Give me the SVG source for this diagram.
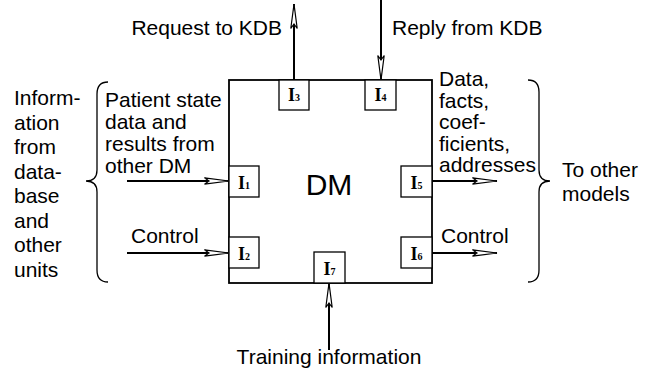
<svg xmlns="http://www.w3.org/2000/svg" width="645" height="376" viewBox="0 0 645 376">
  <style>
    .lbl { font-family: "Liberation Sans", Arial, sans-serif; font-size: 21px; fill: #000; }
    .big { font-family: "Liberation Sans", Arial, sans-serif; font-size: 30px; fill: #000; }
    .port { font-family: "Liberation Serif", "Times New Roman", serif; font-size: 18px; font-weight: bold; fill: #000; }
    .sub { font-size: 10px; }
    .frame { fill: #fff; stroke: #000; stroke-width: 1.8; }
    .pbox { fill: #fff; stroke: #000; stroke-width: 1.3; }
    .flow { fill: none; stroke: #000; stroke-width: 2; marker-end: url(#head); }
    .brace { fill: none; stroke: #000; stroke-width: 1.3; }
  </style>
  <defs>
    <marker id="head" markerUnits="userSpaceOnUse" viewBox="0 0 26 8" refX="25" refY="4" markerWidth="26" markerHeight="8" orient="auto">
      <path d="M0.5,0.8 L25,4 L0.5,7.2 L5,4 Z" fill="#fff" stroke="#000" stroke-width="1.2"/>
    </marker>
  </defs>

  <rect width="645" height="376" fill="#fff"/>

  <!-- decision module with its ports -->
  <g id="dm">
    <rect class="frame" x="229" y="80" width="203" height="203"/>
    <text class="big" x="329" y="195" text-anchor="middle">DM</text>
  </g>
  <g id="port-i1">
    <rect class="pbox" x="229" y="166" width="30" height="31"/>
    <text class="port" x="244" y="189" text-anchor="middle">I<tspan class="sub">1</tspan></text>
  </g>
  <g id="port-i2">
    <rect class="pbox" x="229" y="237" width="30" height="31"/>
    <text class="port" x="244" y="260" text-anchor="middle">I<tspan class="sub">2</tspan></text>
  </g>
  <g id="port-i3">
    <rect class="pbox" x="279" y="80" width="30" height="30"/>
    <text class="port" x="294" y="101" text-anchor="middle">I<tspan class="sub">3</tspan></text>
  </g>
  <g id="port-i4">
    <rect class="pbox" x="365" y="80" width="31" height="30"/>
    <text class="port" x="380.5" y="101" text-anchor="middle">I<tspan class="sub">4</tspan></text>
  </g>
  <g id="port-i5">
    <rect class="pbox" x="401" y="166" width="31" height="31"/>
    <text class="port" x="416.5" y="189" text-anchor="middle">I<tspan class="sub">5</tspan></text>
  </g>
  <g id="port-i6">
    <rect class="pbox" x="401" y="237" width="31" height="31"/>
    <text class="port" x="416.5" y="260" text-anchor="middle">I<tspan class="sub">6</tspan></text>
  </g>
  <g id="port-i7">
    <rect class="pbox" x="314" y="252" width="31" height="31"/>
    <text class="port" x="329.5" y="275" text-anchor="middle">I<tspan class="sub">7</tspan></text>
  </g>

  <!-- signal flows -->
  <g id="connectors">
    <line class="flow" x1="127" y1="181" x2="229" y2="181"/>
    <line class="flow" x1="127" y1="253" x2="229" y2="253"/>
    <line class="flow" x1="432" y1="181" x2="497" y2="181"/>
    <line class="flow" x1="432" y1="253" x2="497" y2="253"/>
    <line class="flow" x1="294" y1="80" x2="294" y2="4"/>
    <line class="flow" x1="381" y1="0" x2="381" y2="80"/>
    <line class="flow" x1="329" y1="350" x2="329" y2="283"/>
  </g>

  <!-- grouping braces -->
  <g id="brace-left">
    <path class="brace" d="M108,82 C100,82 97,86 97,94 L97,170 C97,177 93,181 86,181 C93,181 97,185 97,192 L97,270 C97,278 100,282 108,282"/>
  </g>
  <g id="brace-right">
    <path class="brace" d="M528,80 C536,80 539,84 539,92 L539,170 C539,177 543,181 550,181 C543,181 539,185 539,192 L539,270 C539,278 536,282 528,282"/>
  </g>

  <!-- labels -->
  <g id="labels">
    <text class="lbl" x="282" y="35" text-anchor="end">Request to KDB</text>
    <text class="lbl" x="392" y="35">Reply from KDB</text>
    <text class="lbl" x="14" y="105">Inform-</text>
    <text class="lbl" x="14" y="129.5">ation</text>
    <text class="lbl" x="14" y="154">from</text>
    <text class="lbl" x="14" y="178.5">data-</text>
    <text class="lbl" x="14" y="203">base</text>
    <text class="lbl" x="14" y="227.5">and</text>
    <text class="lbl" x="14" y="252">other</text>
    <text class="lbl" x="14" y="276.5">units</text>
    <text class="lbl" x="105" y="107">Patient state</text>
    <text class="lbl" x="105" y="129">data and</text>
    <text class="lbl" x="105" y="151">results from</text>
    <text class="lbl" x="105" y="173">other DM</text>
    <text class="lbl" x="131" y="243">Control</text>
    <text class="lbl" x="439" y="86">Data,</text>
    <text class="lbl" x="439" y="107.5">facts,</text>
    <text class="lbl" x="439" y="129">coef-</text>
    <text class="lbl" x="439" y="150.5">ficients,</text>
    <text class="lbl" x="439" y="172">addresses</text>
    <text class="lbl" x="441" y="243">Control</text>
    <text class="lbl" x="562" y="177">To other</text>
    <text class="lbl" x="562" y="201">models</text>
    <text class="lbl" x="329" y="364" text-anchor="middle">Training information</text>
  </g>
</svg>
